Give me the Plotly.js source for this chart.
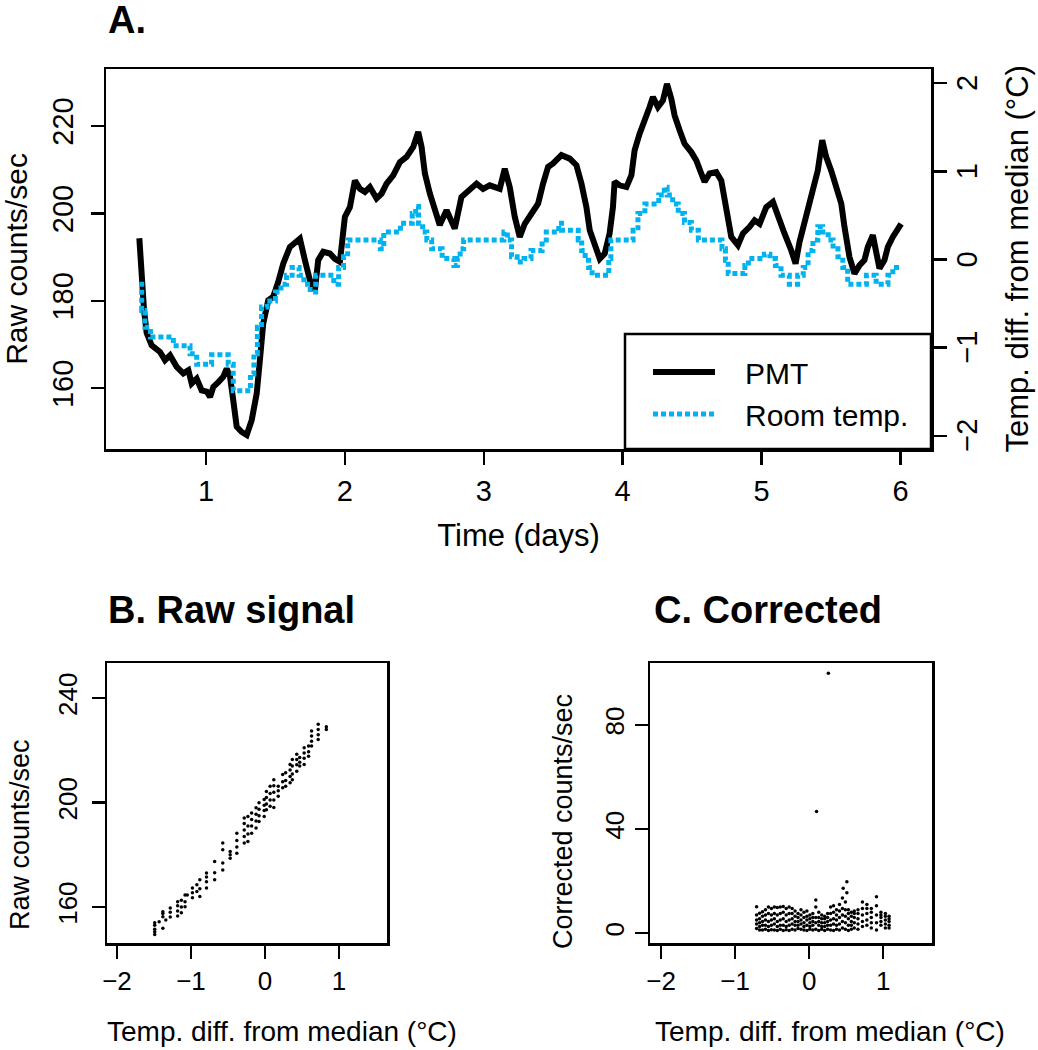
<!DOCTYPE html>
<html>
<head>
<meta charset="utf-8">
<script src="https://cdn.plot.ly/plotly-3.0.1.min.js"></script>
<style>
  body { margin: 0; background: #fff; }
  #plot { width: 1038px; height: 1050px; }
</style>
</head>
<body>
<div id="plot"></div>
<script>
// A. PMT raw counts over time (days)
var pmtTime = [0.52,0.537,0.554,0.573,0.609,0.669,0.705,0.741,0.789,0.837,
  0.873,0.897,0.933,0.969,1.005,1.029,1.053,1.089,1.124,1.149,
  1.173,1.196,1.221,1.257,1.293,1.329,1.365,1.388,1.412,1.448,
  1.484,1.52,1.556,1.604,1.64,1.676,1.712,1.748,1.784,1.808,
  1.844,1.892,1.928,1.964,2.0,2.036,2.072,2.108,2.144,2.18,
  2.228,2.264,2.3,2.348,2.396,2.444,2.492,2.528,2.552,2.576,
  2.612,2.647,2.683,2.732,2.768,2.791,2.839,2.876,2.948,2.995,
  3.043,3.115,3.151,3.187,3.223,3.259,3.295,3.343,3.391,3.427,
  3.463,3.499,3.559,3.619,3.667,3.703,3.739,3.763,3.799,3.835,
  3.871,3.906,3.930,3.942,3.978,4.027,4.063,4.086,4.122,4.158,
  4.194,4.218,4.254,4.29,4.319,4.350,4.374,4.41,4.446,4.494,
  4.530,4.566,4.590,4.626,4.674,4.710,4.746,4.782,4.830,4.866,
  4.914,4.950,4.986,5.034,5.082,5.117,5.165,5.214,5.245,5.273,
  5.322,5.369,5.405,5.437,5.465,5.501,5.538,5.574,5.597,5.633,
  5.669,5.705,5.741,5.765,5.801,5.825,5.849,5.885,5.909,5.945,
  5.981,6.005];
var pmtCounts = [194.3,185.4,177.8,172.6,169.8,168.3,166.4,167.5,164.9,163.4,
  164.1,161.1,162.2,159.5,159.2,158.0,160.3,161.4,162.6,164.5,
  162.6,157.3,151.2,150.0,149.3,152.7,158.8,166.4,174.8,180.1,
  180.9,184.3,188.5,192.3,193.4,194.2,189.3,184.7,182.4,189.3,
  191.2,190.8,189.6,188.9,199.2,201.4,207.5,205.6,204.9,206.0,
  203.4,204.5,206.8,208.7,211.7,212.9,215.2,218.6,215.2,209.1,
  204.5,201.4,197.3,200.7,197.6,196.5,203.7,204.9,206.8,205.6,
  206.4,205.6,210.2,206.0,199.2,194.6,197.6,199.9,202.2,206.8,
  210.6,211.4,213.3,212.5,211.0,206.8,201.4,196.1,192.3,189.6,
  190.8,195.4,201.4,207.2,206.4,206.0,208.7,214.4,218.2,220.9,
  224.3,226.6,224.3,225.8,229.6,226.2,222.4,219.0,215.9,214.0,
  212.1,209.1,207.2,209.1,209.4,207.5,200.7,194.6,192.7,195.4,
  196.9,198.4,197.6,201.4,202.6,199.9,195.4,191.5,188.5,193.4,
  199.2,204.5,209.8,216.7,212.9,209.8,206.0,202.2,196.9,190.0,
  186.2,188.1,189.3,192.3,195.0,190.8,187.4,189.3,192.3,194.6,
  196.1,197.6];

// room temperature (deg C from median), stepwise readings
var roomTime = [0.52,0.537,0.56,0.60,0.765,0.885,0.933,1.04,1.16,1.196,
  1.32,1.345,1.37,1.40,1.44,1.50,1.54,1.58,1.62,1.67,
  1.705,1.75,1.79,1.92,1.955,1.99,2.02,2.255,2.28,2.40,
  2.485,2.51,2.53,2.56,2.59,2.625,2.70,2.785,2.81,2.83,
  2.855,3.145,3.17,3.20,3.24,3.29,3.34,3.42,3.45,3.54,
  3.56,3.68,3.705,3.73,3.755,3.78,3.90,3.915,4.075,4.11,
  4.16,4.26,4.30,4.32,4.36,4.40,4.445,4.495,4.545,4.715,
  4.74,4.76,4.88,4.905,5.02,5.06,5.10,5.14,5.20,5.26,
  5.30,5.335,5.37,5.405,5.44,5.48,5.515,5.55,5.585,5.62,
  5.755,5.825,5.91,5.945,6.005];
var roomTemp = [-0.28,-0.58,-0.77,-0.88,-0.98,-1.07,-1.19,-1.08,-1.19,-1.49,
  -1.30,-1.07,-0.77,-0.54,-0.47,-0.37,-0.28,-0.18,-0.09,-0.18,
  -0.28,-0.37,-0.18,-0.28,-0.09,0.03,0.22,0.12,0.31,0.41,
  0.52,0.60,0.41,0.31,0.22,0.12,0.01,-0.07,0.01,0.12,
  0.22,0.31,0.22,0.03,-0.03,0.01,0.10,0.22,0.31,0.41,
  0.33,0.22,0.10,-0.01,-0.09,-0.18,0.01,0.22,0.33,0.52,
  0.63,0.73,0.82,0.73,0.63,0.52,0.42,0.33,0.22,0.12,
  -0.01,-0.16,-0.07,0.01,0.06,0.01,-0.07,-0.18,-0.28,-0.18,
  -0.09,0.10,0.22,0.37,0.31,0.22,0.12,0.03,-0.09,-0.28,
  -0.18,-0.28,-0.18,-0.09,-0.09];
var tempTicks = [-2, -1, 0, 1, 2];

// B. raw counts vs temperature
var rawTemp = [-1.49,-1.49,-1.49,-1.49,-1.49,-1.43,-1.38,-1.38,-1.38,-1.38,
  -1.34,-1.28,-1.28,-1.28,-1.18,-1.18,-1.18,-1.18,-1.13,-1.13,
  -1.13,-1.08,-1.08,-1.08,-1.05,-0.98,-0.98,-0.98,-0.92,-0.92,
  -0.88,-0.88,-0.88,-0.79,-0.79,-0.79,-0.79,-0.68,-0.68,-0.68,
  -0.57,-0.57,-0.57,-0.57,-0.47,-0.47,-0.47,-0.38,-0.38,-0.38,
  -0.38,-0.28,-0.28,-0.28,-0.28,-0.28,-0.23,-0.23,-0.23,-0.23,
  -0.18,-0.18,-0.18,-0.18,-0.12,-0.12,-0.12,-0.12,-0.08,-0.08,
  -0.08,-0.08,-0.01,-0.01,-0.01,-0.01,0.02,0.02,0.02,0.02,
  0.07,0.07,0.07,0.07,0.12,0.12,0.12,0.12,0.12,0.18,
  0.18,0.18,0.24,0.24,0.24,0.28,0.28,0.28,0.34,0.34,
  0.34,0.34,0.37,0.37,0.37,0.37,0.43,0.43,0.43,0.43,
  0.47,0.47,0.47,0.53,0.53,0.53,0.53,0.59,0.59,0.59,
  0.63,0.63,0.63,0.63,0.72,0.72,0.72,0.72,0.83,0.83];
var rawCounts = [149.5,150.5,151.5,153,154,154.3,151.9,156.3,157.5,158.2,
  155.0,156.2,158,159.6,156.5,158.5,160.5,162.0,157.8,160,
  162.6,160.1,162,164.6,164.6,163.5,165.5,167.3,165.9,168.5,
  164.0,167,170.4,167.3,169.7,171.5,173.0,170.4,173.1,177.4,
  174.2,176.9,181.9,184.5,178.7,180,181.3,180.6,183,185.5,
  188.3,184.5,187,189.5,192,194.1,185.1,188,191,194.7,
  188.3,191,193.5,196.0,190.3,193,195.5,198.0,192.8,195,
  197.5,199.9,194.7,197,199,201.2,197.3,199.5,202,204.3,
  198.6,201,203.5,206.3,198.1,201,204,206.5,208.8,202.4,
  204.5,206.3,205.7,208,210.8,206.3,208.5,211.4,207.6,210,
  212.5,214.6,208.8,211,214,216.5,212.0,214.5,216.5,218.5,
  214.0,215.5,217.3,214.6,217,219,221.0,217.8,219.5,221.7,
  221.7,223.5,225.5,227.4,224.2,226,228,230.0,228.0,229.1];

// C. corrected counts vs temperature (columns of readings, then outliers)
var corrTemp = [
  -0.71,-0.71,-0.71,-0.71,-0.71, -0.67,-0.67,-0.67,-0.67,-0.67,
  -0.63,-0.63,-0.63,-0.63,-0.63, -0.59,-0.59,-0.59,-0.59,-0.59,
  -0.55,-0.55,-0.55,-0.55,-0.55, -0.51,-0.51,-0.51,-0.51,-0.51,
  -0.47,-0.47,-0.47,-0.47,-0.47, -0.43,-0.43,-0.43,-0.43,-0.43,
  -0.39,-0.39,-0.39,-0.39,-0.39, -0.35,-0.35,-0.35,-0.35,-0.35,
  -0.31,-0.31,-0.31,-0.31,-0.31, -0.27,-0.27,-0.27,-0.27,-0.27,
  -0.23,-0.23,-0.23,-0.23,-0.23, -0.19,-0.19,-0.19,-0.19,-0.19,
  -0.15,-0.15,-0.15,-0.15,-0.15, -0.11,-0.11,-0.11,-0.11,-0.11,
  -0.07,-0.07,-0.07,-0.07,-0.07, -0.03,-0.03,-0.03,-0.03,-0.03,
  0.01,0.01,0.01,0.01,0.01, 0.05,0.05,0.05,0.05,0.05,
  0.09,0.09,0.09,0.09,0.09, 0.13,0.13,0.13,0.13,0.13,
  0.17,0.17,0.17,0.17,0.17, 0.21,0.21,0.21,0.21,0.21,
  0.25,0.25,0.25,0.25,0.25, 0.29,0.29,0.29,0.29,0.29,
  0.33,0.33,0.33,0.33,0.33, 0.37,0.37,0.37,0.37,0.37,
  0.41,0.41,0.41,0.41,0.41, 0.45,0.45,0.45,0.45,0.45,
  0.49,0.49,0.49,0.49,0.49, 0.53,0.53,0.53,0.53,0.53,
  0.57,0.57,0.57,0.57,0.57, 0.61,0.61,0.61,0.61,0.61,
  0.66,0.66,0.66,0.66,0.66, 0.72,0.72,0.72,0.72,0.72,
  0.78,0.78,0.78,0.78,0.78, 0.84,0.84,0.84,0.84,0.84,
  0.91,0.91,0.91,0.91,0.91, 0.97,0.97,0.97,0.97,0.97,
  1.03,1.03,1.03,1.03,1.03, 1.08,1.08,1.08,1.08,1.08,
  0.10, 0.26, 0.46, 0.51, 0.51];
var corrCounts = [
  1.8,3.5,5.0,7.0,10.1, 1.2,2.5,4.0,5.5,7.6,
  1.2,3.0,4.5,6.5,8.2, 1.5,3.0,5.0,7.0,9.0,
  1.0,2.5,4.5,7.5,10.0, 1.3,3.0,5.0,7.0,9.5,
  1.2,3.5,5.5,7.5,10.0, 1.0,2.5,4.5,7.0,9.8,
  1.5,3.0,5.0,7.5,10.0, 1.0,3.0,5.5,8.0,10.2,
  1.3,2.5,4.5,7.0,9.5, 1.0,3.0,5.0,7.5,10.0,
  1.5,3.5,5.5,7.5,9.5, 1.2,3.0,4.5,6.5,8.5,
  1.8,3.0,4.5,6.0,7.5, 1.5,3.5,5.0,7.0,9.0,
  1.2,2.5,4.0,6.0,8.0, 1.0,3.0,5.0,6.5,8.5,
  1.5,2.5,4.0,5.5,7.0, 1.2,3.0,4.5,6.0,7.5,
  1.5,4.0,6.0,10.0,12.7, 1.0,3.0,4.5,6.0,8.0,
  1.5,2.5,4.0,5.5,7.0, 1.0,2.5,4.0,5.5,6.5,
  1.5,3.0,4.5,6.0,7.5, 1.2,3.0,5.0,7.5,10.0,
  1.0,3.5,5.5,8.0,10.5, 1.5,3.0,5.0,7.0,9.0,
  1.2,3.5,6.0,8.5,11.0, 2.0,4.5,7.0,9.5,13.5,
  1.5,4.0,6.5,9.0,12.0, 1.0,3.0,5.5,7.5,9.0,
  1.5,3.0,4.5,6.5,8.0, 2.0,4.0,6.0,7.5,8.5,
  1.5,3.5,5.5,7.5,9.0, 2.5,4.5,7.0,9.5,12.0,
  3.0,5.0,7.5,9.5,11.0, 2.0,4.0,6.0,8.0,9.5,
  1.2,4.0,7.0,10.5,14.0, 3.0,4.5,6.0,7.0,8.0,
  2.0,3.5,5.0,6.5,7.5, 2.0,3.0,4.5,5.5,6.5,
  46.7, 99.9, 17.2, 19.7, 15.5];

var W = 1038, H = 1050;
function px(x) { return x / W; }
function py(y) { return 1 - y / H; }

var FONT = 'Liberation Sans, Arial, Helvetica, sans-serif';
var CYAN = '#00B2EE';
var NB = '\u00A0\u00A0\u00A0';

function boxAxis(extra) {
  var a = {
    showline: true, linecolor: 'black', linewidth: 2.5, mirror: true,
    showgrid: false, zeroline: false,
    ticks: 'outside', ticklen: 13, tickwidth: 2.5, tickcolor: 'black',
    tickfont: {family: FONT, size: 29, color: 'black'},
    fixedrange: true
  };
  for (var k in extra) a[k] = extra[k];
  return a;
}

var traces = [
  {
    x: pmtTime, y: pmtCounts, type: 'scatter', mode: 'lines',
    name: NB + 'PMT', line: {color: 'black', width: 6},
    xaxis: 'x', yaxis: 'y'
  },
  {
    x: roomTime, y: roomTemp, type: 'scatter', mode: 'lines',
    name: NB + 'Room temp.', line: {color: CYAN, width: 5, shape: 'hv', dash: '5px,3px'},
    xaxis: 'x', yaxis: 'y2'
  },
  {
    x: rawTemp, y: rawCounts, type: 'scatter', mode: 'markers',
    marker: {color: 'black', size: 3.5}, showlegend: false,
    xaxis: 'x2', yaxis: 'y3'
  },
  {
    x: corrTemp, y: corrCounts, type: 'scatter', mode: 'markers',
    marker: {color: 'black', size: 3.5}, showlegend: false,
    xaxis: 'x3', yaxis: 'y4'
  }
];

var smallTick = {family: FONT, size: 26, color: 'black'};

var annotations = [
  {text: '<b>A.</b>', xref: 'paper', yref: 'paper', x: px(106), y: py(20),
   xanchor: 'left', yanchor: 'middle', showarrow: false,
   font: {family: FONT, size: 38, color: 'black'}},
  {text: '<b>B. Raw signal</b>', xref: 'paper', yref: 'paper', x: px(106), y: py(610),
   xanchor: 'left', yanchor: 'middle', showarrow: false,
   font: {family: FONT, size: 38, color: 'black'}},
  {text: '<b>C. Corrected</b>', xref: 'paper', yref: 'paper', x: px(652), y: py(610),
   xanchor: 'left', yanchor: 'middle', showarrow: false,
   font: {family: FONT, size: 38, color: 'black'}},
  {text: 'Temp. diff. from median (°C)', xref: 'paper', yref: 'paper', x: px(282), y: py(1031),
   xanchor: 'center', yanchor: 'middle', showarrow: false,
   font: {family: FONT, size: 28, color: 'black'}},
  {text: 'Temp. diff. from median (°C)', xref: 'paper', yref: 'paper', x: px(830), y: py(1031),
   xanchor: 'center', yanchor: 'middle', showarrow: false,
   font: {family: FONT, size: 28, color: 'black'}},
  {text: 'Raw counts/sec', xref: 'paper', yref: 'paper', x: px(20), y: py(835),
   xanchor: 'center', yanchor: 'middle', showarrow: false, textangle: -90,
   font: {family: FONT, size: 27, color: 'black'}},
  {text: 'Corrected counts/sec', xref: 'paper', yref: 'paper', x: px(563), y: py(822),
   xanchor: 'center', yanchor: 'middle', showarrow: false, textangle: -90,
   font: {family: FONT, size: 27, color: 'black'}},
  {text: 'Temp. diff. from median (°C)', xref: 'paper', yref: 'y2', x: px(1017), y: 0,
   xanchor: 'center', yanchor: 'middle', showarrow: false, textangle: -90,
   font: {family: FONT, size: 31, color: 'black'}}
];
// right-axis tick labels, placed on the temperature scale
tempTicks.forEach(function (v) {
  annotations.push({
    text: v < 0 ? '\u2212' + Math.abs(v) : String(v),
    xref: 'paper', yref: 'y2', x: px(967), y: v,
    xanchor: 'center', yanchor: 'middle', showarrow: false, textangle: -90,
    font: {family: FONT, size: 29, color: 'black'}
  });
});

var layout = {
  width: W, height: H,
  margin: {l: 0, r: 0, t: 0, b: 0},
  paper_bgcolor: 'white', plot_bgcolor: 'white',
  font: {family: FONT, color: 'black'},
  showlegend: true,
  legend: {
    x: px(648), y: py(346), xanchor: 'left', yanchor: 'top',
    bgcolor: 'rgba(0,0,0,0)', borderwidth: 0,
    font: {family: FONT, size: 30, color: 'black'},
    itemwidth: 62, tracegroupgap: 0
  },
  xaxis: boxAxis({
    domain: [px(106), px(931)], anchor: 'y',
    range: [0.28, 6.22], tickvals: [1, 2, 3, 4, 5, 6],
    ticklabelstandoff: 2,
    title: {text: 'Time (days)', font: {family: FONT, size: 31, color: 'black'}, standoff: 18}
  }),
  yaxis: boxAxis({
    domain: [py(449), py(69)], anchor: 'x',
    range: [146.1, 233], tickvals: [160, 180, 200, 220], tickangle: -90,
    ticklabelstandoff: 6,
    title: {text: 'Raw counts/sec', font: {family: FONT, size: 30, color: 'black'}, standoff: 24}
  }),
  yaxis2: boxAxis({
    overlaying: 'y', side: 'right', anchor: 'x',
    range: [-2.15, 2.16], tickvals: tempTicks, showticklabels: false, mirror: false
  }),
  xaxis2: boxAxis({
    domain: [px(107), px(387)], anchor: 'y3',
    range: [-2.135, 1.65], tickvals: [-2, -1, 0, 1],
    tickfont: smallTick, ticklabelstandoff: 0
  }),
  yaxis3: boxAxis({
    domain: [py(943), py(663)], anchor: 'x2',
    range: [146.2, 253.5], tickvals: [160, 200, 240], tickangle: -90,
    tickfont: smallTick, ticklabelstandoff: 4
  }),
  xaxis3: boxAxis({
    domain: [px(650), px(932)], anchor: 'y4',
    range: [-2.15, 1.66], tickvals: [-2, -1, 0, 1],
    tickfont: smallTick, ticklabelstandoff: 0
  }),
  yaxis4: boxAxis({
    domain: [py(943), py(663)], anchor: 'x3',
    range: [-3.8, 103.8], tickvals: [0, 40, 80], tickangle: -90,
    tickfont: smallTick, ticklabelstandoff: 0
  }),
  shapes: [
    {
      type: 'rect', xref: 'paper', yref: 'paper', layer: 'above',
      x0: px(625), x1: px(931), y0: py(449), y1: py(334),
      fillcolor: 'white', line: {color: 'black', width: 2.5}
    }
  ],
  annotations: annotations
};

Plotly.newPlot('plot', traces, layout, {displayModeBar: false, staticPlot: true});
</script>
</body>
</html>
